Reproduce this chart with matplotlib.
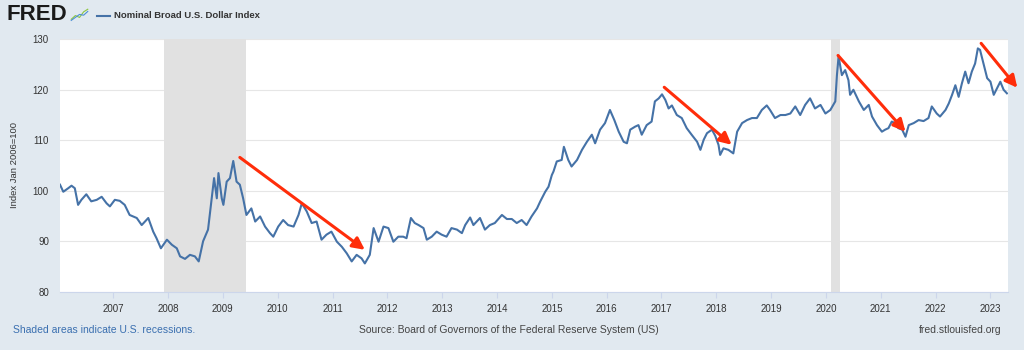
import matplotlib
matplotlib.use('Agg')
import matplotlib.pyplot as plt
from matplotlib.lines import Line2D

# Nominal Broad U.S. Dollar Index (decimal year, index)
years = [
    2006.03, 2006.09, 2006.18, 2006.24, 2006.30, 2006.36, 2006.42, 2006.51, 2006.60, 2006.70,
    2006.79, 2006.88, 2006.94, 2007.03, 2007.12, 2007.21, 2007.30, 2007.43, 2007.52, 2007.64,
    2007.73, 2007.79, 2007.87, 2007.98, 2008.07, 2008.16, 2008.22, 2008.31, 2008.40, 2008.49,
    2008.56, 2008.64, 2008.73, 2008.79, 2008.84, 2008.89, 2008.92, 2008.98, 2009.01, 2009.07,
    2009.13, 2009.19, 2009.25, 2009.31, 2009.37, 2009.43, 2009.52, 2009.59, 2009.68, 2009.77,
    2009.86, 2009.92, 2010.01, 2010.10, 2010.19, 2010.29, 2010.38, 2010.44, 2010.53, 2010.62,
    2010.71, 2010.80, 2010.89, 2010.98, 2011.08, 2011.17, 2011.26, 2011.35, 2011.44, 2011.53,
    2011.59, 2011.68, 2011.75, 2011.84, 2011.93, 2012.02, 2012.11, 2012.20, 2012.29, 2012.35,
    2012.43, 2012.50, 2012.57, 2012.66, 2012.72, 2012.81, 2012.90, 2012.99, 2013.08, 2013.17,
    2013.27, 2013.36, 2013.42, 2013.51, 2013.57, 2013.69, 2013.78, 2013.87, 2013.96, 2014.09,
    2014.18, 2014.27, 2014.36, 2014.45, 2014.54, 2014.63, 2014.73, 2014.79, 2014.88, 2014.94,
    2015.00, 2015.03, 2015.09, 2015.18, 2015.22, 2015.30, 2015.36, 2015.46, 2015.55, 2015.64,
    2015.73, 2015.79, 2015.88, 2015.97, 2016.06, 2016.14, 2016.22, 2016.31, 2016.37, 2016.43,
    2016.52, 2016.58, 2016.64, 2016.73, 2016.82, 2016.88, 2016.95, 2017.01, 2017.07, 2017.13,
    2017.19, 2017.28, 2017.37, 2017.46, 2017.55, 2017.65, 2017.71, 2017.77, 2017.83, 2017.92,
    2017.98, 2018.04, 2018.07, 2018.13, 2018.22, 2018.31, 2018.38, 2018.47, 2018.56, 2018.65,
    2018.74, 2018.83, 2018.92, 2018.98, 2019.07, 2019.17, 2019.26, 2019.35, 2019.44, 2019.53,
    2019.62, 2019.71, 2019.80, 2019.90, 2019.99, 2020.08, 2020.17, 2020.20, 2020.23, 2020.29,
    2020.35, 2020.41, 2020.44, 2020.50, 2020.60, 2020.69, 2020.78, 2020.84, 2020.93, 2021.02,
    2021.08, 2021.14, 2021.20, 2021.26, 2021.32, 2021.39, 2021.45, 2021.51, 2021.60, 2021.69,
    2021.78, 2021.87, 2021.93, 2022.02, 2022.08, 2022.18, 2022.24, 2022.30, 2022.36, 2022.42,
    2022.48, 2022.54, 2022.60, 2022.66, 2022.72, 2022.77, 2022.81, 2022.88, 2022.94, 2023.00,
    2023.06, 2023.12, 2023.18, 2023.24, 2023.30,
]
index_values = [
    101.2, 99.8, 100.5, 101.0, 100.5, 97.2, 98.2, 99.3, 97.9, 98.2,
    98.8, 97.5, 96.9, 98.2, 98.0, 97.2, 95.2, 94.6, 93.2, 94.6,
    91.9, 90.6, 88.6, 90.3, 89.3, 88.6, 87.0, 86.5, 87.3, 87.0,
    86.0, 90.0, 92.3, 97.9, 102.5, 98.5, 103.5, 98.5, 97.2, 101.8,
    102.5, 105.9, 101.8, 101.2, 98.5, 95.2, 96.5, 93.9, 94.9, 92.9,
    91.6, 90.9, 92.9, 94.2, 93.2, 92.9, 95.2, 97.5, 95.9, 93.6,
    93.9, 90.3, 91.3, 91.9, 89.9, 88.9, 87.6, 86.0, 87.3, 86.6,
    85.6, 87.3, 92.6, 89.9, 92.9, 92.6, 89.9, 90.9, 90.9, 90.6,
    94.6, 93.6, 93.2, 92.6, 90.3, 90.9, 91.9, 91.3, 90.9, 92.6,
    92.3, 91.6, 93.2, 94.7, 93.2, 94.6, 92.3, 93.2, 93.6, 95.2,
    94.4, 94.4, 93.6, 94.2, 93.2, 94.9, 96.5, 97.9, 99.8, 100.8,
    103.1, 103.8, 105.8, 106.1, 108.7, 106.1, 104.8, 106.1, 108.1, 109.7,
    111.1, 109.4, 112.1, 113.4, 116.0, 114.0, 111.7, 109.7, 109.4, 112.1,
    112.7, 113.0, 111.1, 113.0, 113.7, 117.7, 118.3, 119.1, 118.0, 116.3,
    116.9, 115.0, 114.4, 112.4, 111.1, 109.7, 108.1, 110.1, 111.4, 112.1,
    110.9, 109.1, 107.1, 108.4, 108.1, 107.4, 111.7, 113.4, 114.0, 114.4,
    114.4, 116.0, 116.9, 116.0, 114.4, 115.0, 115.0, 115.3, 116.7, 115.0,
    117.0, 118.3, 116.3, 117.0, 115.3, 116.0, 117.7, 122.9, 126.6, 122.9,
    123.9, 121.9, 119.0, 120.0, 117.7, 116.0, 117.0, 114.7, 113.0, 111.7,
    112.1, 112.4, 113.7, 113.4, 112.4, 112.1, 110.7, 113.0, 113.4, 114.0,
    113.8, 114.4, 116.7, 115.3, 114.7, 116.0, 117.3, 119.0, 120.9, 118.6,
    121.3, 123.6, 121.3, 123.6, 125.2, 128.2, 127.9, 124.9, 122.3, 121.6,
    119.0, 120.3, 121.6, 120.0, 119.3,
]

# US recessions (start, end)
recessions = [(2007.92, 2009.42), (2020.10, 2020.25)]

# Red trend arrows drawn on the chart: (x0, y0, x1, y1)
arrows = [
    (2009.31, 106.6, 2011.59, 88.3),
    (2017.05, 120.5, 2018.28, 109.1),
    (2020.22, 126.8, 2021.45, 111.7),
    (2022.83, 129.2, 2023.49, 120.4),
]

tick_years = list(range(2007, 2024))
y_ticks = [80, 90, 100, 110, 120, 130]

plt.rcParams['font.family'] = ['Liberation Sans', 'DejaVu Sans']

bg = '#e1e9f0'
fig = plt.figure(figsize=(10.24, 3.5), dpi=100, facecolor=bg)
ax = fig.add_axes([60/1024, 1 - 291.7/350, 948/1024, 252.4/350])
ax.set_facecolor('white')

for start, end in recessions:
    ax.axvspan(start, end, color='#e1e1e1', lw=0, zorder=1)

ax.plot(years, index_values, color='#4572a7', lw=1.5, zorder=3)

for x0, y0, x1, y1 in arrows:
    ax.annotate('', xy=(x1, y1), xytext=(x0, y0), annotation_clip=False,
                arrowprops=dict(arrowstyle='-|>', color='#ff2d0a', lw=2.2,
                                mutation_scale=18, shrinkA=0, shrinkB=0),
                zorder=4)

ax.set_xlim(2006.03, 2023.32)
ax.set_ylim(80, 130)
ax.set_yticks(y_ticks)
ax.set_xticks(tick_years)
ax.set_xticklabels([str(y) for y in tick_years])
ax.grid(axis='y', color='#e6e6e6', lw=0.8, zorder=0)
ax.set_axisbelow(True)
for side in ['top', 'right', 'left']:
    ax.spines[side].set_visible(False)
ax.spines['bottom'].set_color('#ccd6eb')
ax.tick_params(axis='y', length=0, pad=8, labelsize=7, labelcolor='#333333')
ax.tick_params(axis='x', length=4, color='#ccd6eb', pad=5, labelsize=7,
               labelcolor='#333333')
ax.set_ylabel('Index Jan 2006=100', fontsize=6.8, color='#333333', labelpad=10)

# header: FRED logo, small icon, legend entry
fig.text(7/1024, 1 - 15/350, 'FRED', fontsize=16, fontweight='bold',
         color='#1a1a1a', va='center', ha='left')
icon = fig.add_axes([70/1024, 1 - 23/350, 19/1024, 16/350])
icon.set_facecolor('#dfe3e6')
icon.plot([0, 1, 2, 3, 4], [0.5, 1.5, 1.0, 2.5, 3.2], color='#8cc63f', lw=0.8)
icon.plot([0, 1, 2, 3, 4], [0.2, 1.0, 1.8, 1.6, 2.6], color='#4c8fd6', lw=0.8)
icon.set_xlim(-0.3, 4.3)
icon.set_ylim(-0.5, 3.8)
icon.axis('off')

fig.add_artist(Line2D([97/1024, 110/1024], [1 - 16/350, 1 - 16/350],
                      color='#4572a7', lw=1.5))
fig.text(114/1024, 1 - 16/350, 'Nominal Broad U.S. Dollar Index', fontsize=6.8,
         fontweight='bold', color='#333333', va='center', ha='left')

# footer
fig.text(13/1024, 1 - 330/350, 'Shaded areas indicate U.S. recessions.',
         fontsize=7.5, color='#3a6fb0', va='center', ha='left')
fig.text(509/1024, 1 - 330/350,
         'Source: Board of Governors of the Federal Reserve System (US)',
         fontsize=7.5, color='#444444', va='center', ha='center')
fig.text(1002/1024, 1 - 330/350, 'fred.stlouisfed.org', fontsize=7.5,
         color='#444444', va='center', ha='right')

fig.savefig('out.png', dpi=100, facecolor=bg)
